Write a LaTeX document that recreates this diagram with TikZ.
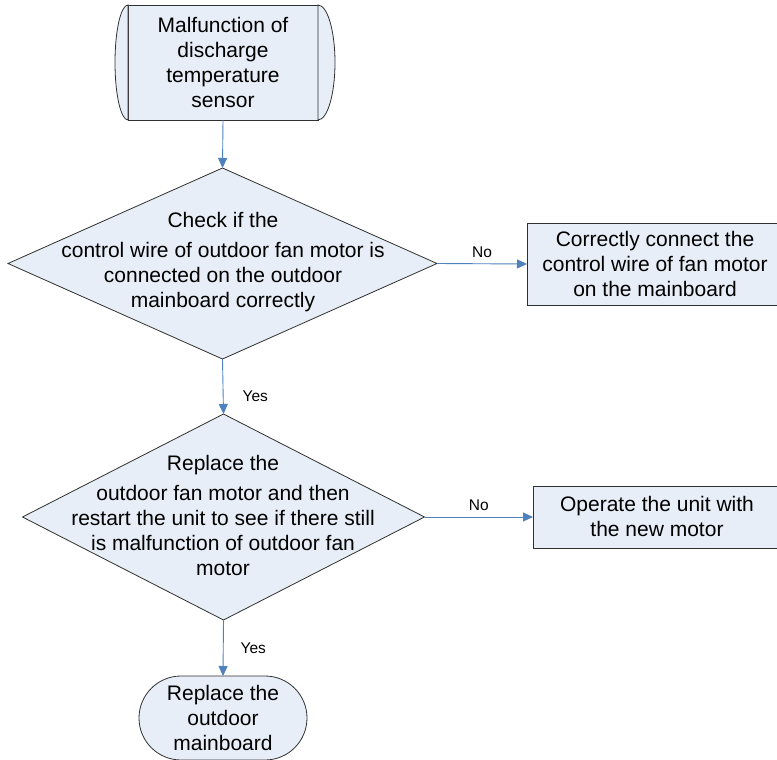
\documentclass[tikz,border=0pt]{standalone}
\usepackage{fontspec}
\setmainfont{Liberation Sans}
\usetikzlibrary{shapes.geometric,shapes.misc,arrows.meta}
\definecolor{shapefill}{HTML}{E8EEF7}
\definecolor{linkblue}{HTML}{4F81BD}
\definecolor{edgegray}{HTML}{303030}
\tikzset{
  shapeline/.style={draw=edgegray, line width=0.8pt, fill=shapefill},
  txt/.style={align=center, font=\fontsize{21}{25}\selectfont, inner sep=0pt},
  lbl/.style={font=\fontsize{15.5}{17}\selectfont, inner sep=0pt},
  link/.style={draw=linkblue, line width=0.9pt, -{Triangle[length=10pt,width=9pt]}},
  dec/.style={shape=diamond, shapeline, inner sep=0pt, outer sep=0pt},
  procbox/.style={shape=rectangle, shapeline, inner sep=0pt, outer sep=0pt},
}
\begin{document}
\begin{tikzpicture}[x=1pt,y=1pt]
\useasboundingbox (0,0) rectangle (777,-760);
\clip (0,0) rectangle (777,-760);
% start shape
\node[procbox, minimum width=190pt, minimum height=115pt] (start) at (223,-62.5) {};
\path[shapeline] (start.north west) arc[start angle=90, end angle=270, x radius=13pt, y radius=57.5pt] -- cycle;
\path[shapeline] (start.north east) arc[start angle=90, end angle=-90, x radius=17pt, y radius=57.5pt] -- cycle;
\node[txt] (starttxt) at (223,-62) {Malfunction of\\discharge\\temperature\\sensor};
% decision 1
\node[dec, minimum width=429pt, minimum height=191pt] (d1) at (222.5,-263.5) {};
\node[txt] (d1txt) at (223,-262) {Check if the\\[5pt]control wire of outdoor fan motor is\\connected on the outdoor\\mainboard correctly};
% box 1
\node[procbox, minimum width=257pt, minimum height=82pt, anchor=west] (b1) at (527,-264) {};
\node[txt] (b1txt) at (655,-264) {Correctly connect the\\control wire of fan motor\\on the mainboard};
% decision 2
\node[dec, minimum width=402pt, minimum height=206pt] (d2) at (223.5,-517) {};
\node[txt] (d2txt) at (223,-515) {Replace the\\[5pt]outdoor fan motor and then\\restart the unit to see if there still\\is malfunction of outdoor fan\\motor};
% box 2
\node[procbox, minimum width=250pt, minimum height=62pt, anchor=west] (b2) at (533,-517) {};
\node[txt] (b2txt) at (657,-516) {Operate the unit with\\the new motor};
% terminal
\node[shape=rounded rectangle, shapeline, minimum width=168pt, minimum height=84pt, inner sep=0pt, outer sep=0pt] (endt) at (223,-718) {};
\node[txt] (endtxt) at (223,-718) {Replace the\\outdoor\\mainboard};
% connectors
\draw[link] (start.south) -- (d1.north);
\draw[link] (d1.east) -- (b1.west) node[lbl, pos=0.5, above=6pt] (no1) {No};
\draw[link] (d1.south) -- (d2.north) node[lbl, pos=0.67, right=19pt] (yes1) {Yes};
\draw[link] (d2.east) -- (b2.west) node[lbl, pos=0.5, above=6pt] (no2) {No};
\draw[link] (d2.south) -- (endt.north) node[lbl, pos=0.5, right=17pt] (yes2) {Yes};
\end{tikzpicture}
\end{document}
